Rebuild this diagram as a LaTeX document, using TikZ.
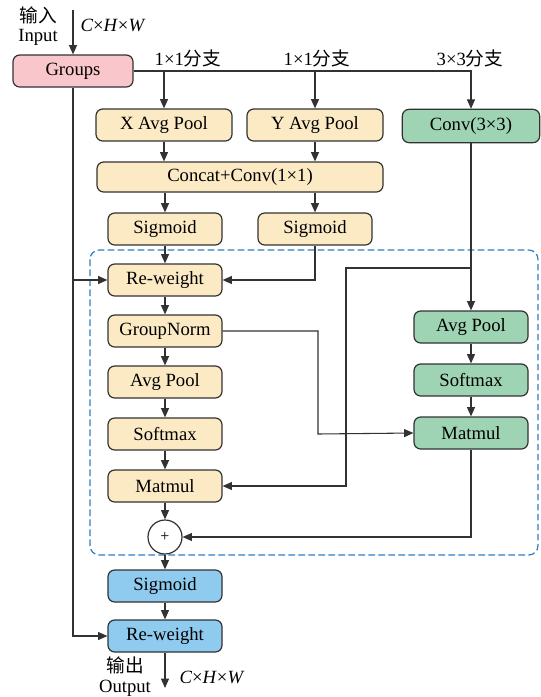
\documentclass[tikz,border=0pt]{standalone}
\usepackage{fontspec}
\setmainfont{Liberation Serif}
\newfontfamily\cjk{Noto Sans CJK SC}
\usepackage{xcolor}
\usetikzlibrary{arrows.meta}

\definecolor{pinkfill}{RGB}{248,198,203}
\definecolor{yellowfill}{RGB}{252,234,197}
\definecolor{greenfill}{RGB}{158,212,180}
\definecolor{bluefill}{RGB}{142,203,239}
\definecolor{dashblue}{RGB}{46,125,193}
\definecolor{edge}{RGB}{50,50,50}

\begin{document}
\begin{tikzpicture}[x=0.75pt,y=0.75pt,yscale=-1,xscale=1,
  font=\fontsize{14}{16}\selectfont,
  blk/.style={draw=edge, line width=0.9pt, rounded corners=5pt, inner sep=0pt, minimum height=24pt, minimum width=85.5pt},
  pbox/.style={blk, fill=pinkfill},
  ybox/.style={blk, fill=yellowfill},
  gbox/.style={blk, fill=greenfill},
  bbox/.style={blk, fill=bluefill},
  arr/.style={-{Triangle[length=7pt,width=6pt]}, draw=edge, line width=0.8pt},
  wire/.style={draw=edge, line width=0.8pt},
  lbl/.style={inner sep=0pt}
]
\useasboundingbox (0,0) rectangle (541,697);

%Shape: dashed frame
\draw [dashblue, line width=0.9pt, dash pattern=on 5pt off 2.5pt, rounded corners=7pt] (90,250) rectangle (538,555);

%Nodes: input part
\node [pbox, minimum width=90pt] (groups) at (73,71) {Groups};
\node [ybox, minimum width=102pt] (xavg) at (164,125) {X Avg Pool};
\node [ybox, minimum width=102pt] (yavg) at (315,125) {Y Avg Pool};
\node [gbox, minimum width=103pt, minimum height=25pt] (conv) at (471,126) {Conv(3×3)};
\node [ybox, minimum width=214.5pt, minimum height=22.5pt] (concat) at (240,177) {Concat+Conv(1×1)};
\node [ybox] (sigl) at (165,229) {Sigmoid};
\node [ybox] (sigr) at (315,229) {Sigmoid};

%Nodes: left column
\node [ybox] (rw) at (165,280) {Re-weight};
\node [ybox] (gn) at (165,331) {GroupNorm};
\node [ybox] (avgl) at (165,382) {Avg Pool};
\node [ybox] (smaxl) at (165,434) {Softmax};
\node [ybox] (mmull) at (165,486) {Matmul};
\node [circle, draw=edge, line width=0.9pt, fill=white, minimum size=25.5pt, inner sep=0pt] (plus) at (165,537) {\fontsize{12}{12}\selectfont +};
\node [bbox] (sigb) at (165,586) {Sigmoid};
\node [bbox] (rwb) at (165,636) {Re-weight};

%Nodes: right column
\node [gbox] (avgr) at (471,327) {Avg Pool};
\node [gbox] (smaxr) at (471,380) {Softmax};
\node [gbox] (mmulr) at (471,433) {Matmul};

% Text Node
\node [lbl] (inzh) at (38,15) {\cjk 输入};
\node [lbl] (inen) at (38,37) {Input};
\node [lbl] (insz) at (113,25) {\textit{C}×\textit{H}×\textit{W}};
\node [lbl] (bra) at (188,58) {1×1{\cjk 分支}};
\node [lbl] (brb) at (317,58) {1×1{\cjk 分支}};
\node [lbl] (brc) at (470,58) {3×3{\cjk 分支}};
\node [lbl] (outzh) at (125,665) {\cjk 输出};
\node [lbl] (outen) at (125,688) {Output};
\node [lbl] (outsz) at (212,677) {\textit{C}×\textit{H}×\textit{W}};

%Coordinates for free ends and bends
\coordinate (in) at (73,10);
\coordinate (out) at (165,688);
\coordinate (convturn) at (346,268);
\coordinate (gnturn) at (318,434);

%Connectors
\draw [arr] (in) -- (groups);
\draw [arr] (groups.east) -| (conv.north);
\draw [arr] (groups.east -| xavg) -- (xavg.north);
\draw [arr] (groups.east -| yavg) -- (yavg.north);
\draw [arr] (xavg) -- (xavg |- concat.north);
\draw [arr] (yavg) -- (yavg |- concat.north);
\draw [arr] (concat.south -| sigl) -- (sigl);
\draw [arr] (concat.south -| sigr) -- (sigr);
\draw [arr] (sigl) -- (rw);
\draw [arr] (sigr.south) |- (rw.east);
\draw [arr] (groups.south) |- (rwb.west);
\draw [arr] (groups.south |- rw) -- (rw.west);
\draw [arr] (rw) -- (gn);
\draw [arr] (gn) -- (avgl);
\draw [arr] (avgl) -- (smaxl);
\draw [arr] (smaxl) -- (mmull);
\draw [arr] (mmull) -- (plus);
\draw [arr] (plus) -- (sigb);
\draw [arr] (sigb) -- (rwb);
\draw [arr] (rwb) -- (out);
\draw [arr] (conv) -- (avgr);
\draw [arr] (avgr) -- (smaxr);
\draw [arr] (smaxr) -- (mmulr);
\draw [arr] (conv.south |- convturn) -- (convturn) |- (mmull.east);
\draw [arr] (gn.east) -| (gnturn) -- (mmulr.west);
\draw [arr] (mmulr.south) |- (plus.east);

\end{tikzpicture}
\end{document}
